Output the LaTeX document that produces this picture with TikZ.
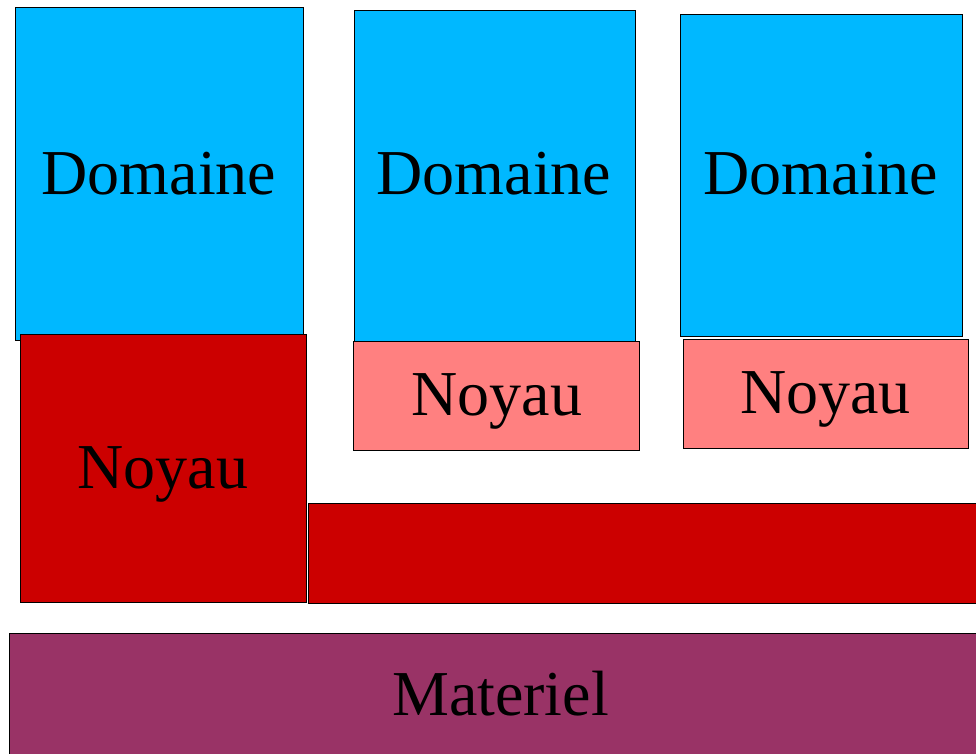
\documentclass[tikz,border=0pt]{standalone}
\usepackage{fontspec}
\setmainfont{Liberation Serif}
\definecolor{dblue}{RGB}{0,184,255}
\definecolor{dred}{RGB}{204,0,0}
\definecolor{pinkk}{RGB}{255,128,128}
\definecolor{purp}{RGB}{153,51,102}
\begin{document}
\begin{tikzpicture}[x=1pt,y=-1pt,
  blk/.style={draw=black,line width=0.8pt,inner sep=0pt,outer sep=0pt},
  lbl/.style={anchor=base,inner sep=0pt,font=\fontsize{64}{64}\selectfont}]
\useasboundingbox (0,0) rectangle (976,753);
% boxes
\path[blk,fill=dblue] (15,7) rectangle (303,340) node[pos=0.5,draw=none] (d1) {};
\path[blk,fill=dblue] (354,10) rectangle (635,341) node[pos=0.5,draw=none] (d2) {};
\path[blk,fill=dblue] (680,14) rectangle (962,336) node[pos=0.5,draw=none] (d3) {};
\path[blk,fill=dred] (20,334) rectangle (306,602) node[pos=0.5,draw=none] (n1) {};
\path[blk,fill=pinkk] (353,341) rectangle (639,450) node[pos=0.5,draw=none] (n2) {};
\path[blk,fill=pinkk] (683,339) rectangle (968,448) node[pos=0.5,draw=none] (n3) {};
\path[blk,fill=dred] (308,503) rectangle (1000,603) node[pos=0.5,draw=none] (bar) {};
\path[blk,fill=purp] (9,633) rectangle (993,770) node[pos=0.5,draw=none] (mat) {};
% labels
\node[lbl] (td1) at (159,194) {Domaine};
\node[lbl] (td2) at (494,194) {Domaine};
\node[lbl] (td3) at (821,194) {Domaine};
\node[lbl] (tn1) at (163,488) {Noyau};
\node[lbl] (tn2) at (497,415) {Noyau};
\node[lbl] (tn3) at (825.5,413) {Noyau};
\node[lbl] (tm) at (500.5,715) {Materiel};
\end{tikzpicture}
\end{document}
